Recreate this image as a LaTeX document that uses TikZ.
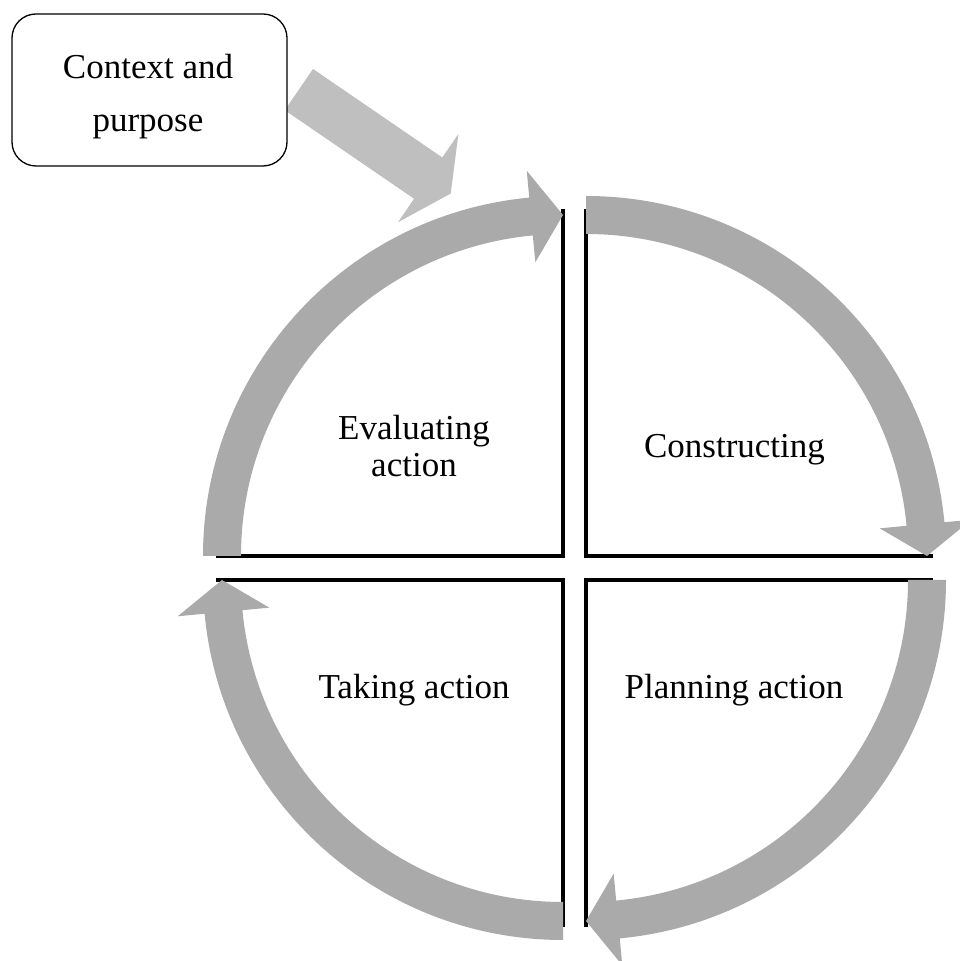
\documentclass[tikz,border=0pt]{standalone}
\usepackage{fontspec}
\setmainfont{Liberation Serif}
\usetikzlibrary{calc}
\definecolor{cycgray}{HTML}{AAAAAA}
\definecolor{ctxgray}{HTML}{BFBFBF}
% curved block arrow round a quadrant corner: #1 corner, #2 start angle (runs clockwise 90 degrees)
\newcommand\cyclearrow[2]{%
  \begin{scope}[shift={(#1)}]
    \pgfmathsetmacro\cycSA{#2}%
    \pgfmathsetmacro\cycBA{#2-84.62}%
    \pgfmathsetmacro\cycEA{#2-90}%
    \fill[cyc] (\cycSA:360pt) arc[start angle=\cycSA, end angle=\cycBA, radius=360pt]
      -- (\cycBA:387pt) -- (\cycEA:341pt) -- (\cycBA:295pt) -- (\cycBA:322pt)
      arc[start angle=\cycBA, end angle=\cycSA, radius=322pt] -- cycle;
  \end{scope}}
\begin{document}
\begin{tikzpicture}[x=1pt,y=1pt,
  quad/.style={draw=black, line width=4pt, line join=miter},
  cyc/.style={fill=cycgray},
  ctxarrow/.style={fill=ctxgray},
  ctxbox/.style={draw=black, line width=1.3pt, fill=white, rounded corners=24pt,
    minimum width=275pt, minimum height=152pt, inner sep=0pt},
  lbl/.style={font=\fontsize{35}{37}\selectfont, align=center, inner sep=0pt}]
\useasboundingbox (0,0) rectangle (959,961);
% quadrant corners
\coordinate (tl) at (563,405);
\coordinate (tr) at (586,405);
\coordinate (bl) at (563,381);
\coordinate (br) at (586,381);
% quadrant edges
\draw[quad] (563,752) -- (tl) -- (216,405);
\draw[quad] (586,752) -- (tr) -- (933,405);
\draw[quad] (216,381) -- (bl) -- (563,34);
\draw[quad] (933,381) -- (br) -- (586,34);
% cycle arrows
\cyclearrow{tl}{180}
\cyclearrow{tr}{90}
\cyclearrow{br}{0}
\cyclearrow{bl}{-90}
% context arrow
\begin{scope}[shift={(298.9,871.4)}, rotate=-34.4]
  \fill[ctxarrow] (0,25) -- (156.7,25) -- (156.7,53.5) -- (184,0)
    -- (156.7,-53.5) -- (156.7,-25) -- (0,-25) -- cycle;
\end{scope}
% context box
\node[ctxbox] (ctx) at (149.5,871) {};
\node[lbl, font=\fontsize{35}{53}\selectfont, anchor=base] (ctxt) at (148,829) {Context and\\purpose};
% quadrant labels
\node[lbl, anchor=base] (eval) at (414,484) {Evaluating\\action};
\node[lbl, anchor=base] (cons) at (734.5,503) {Constructing};
\node[lbl, anchor=base] (take) at (414,262) {Taking action};
\node[lbl, anchor=base] (plan) at (734,262) {Planning action};
\end{tikzpicture}
\end{document}
